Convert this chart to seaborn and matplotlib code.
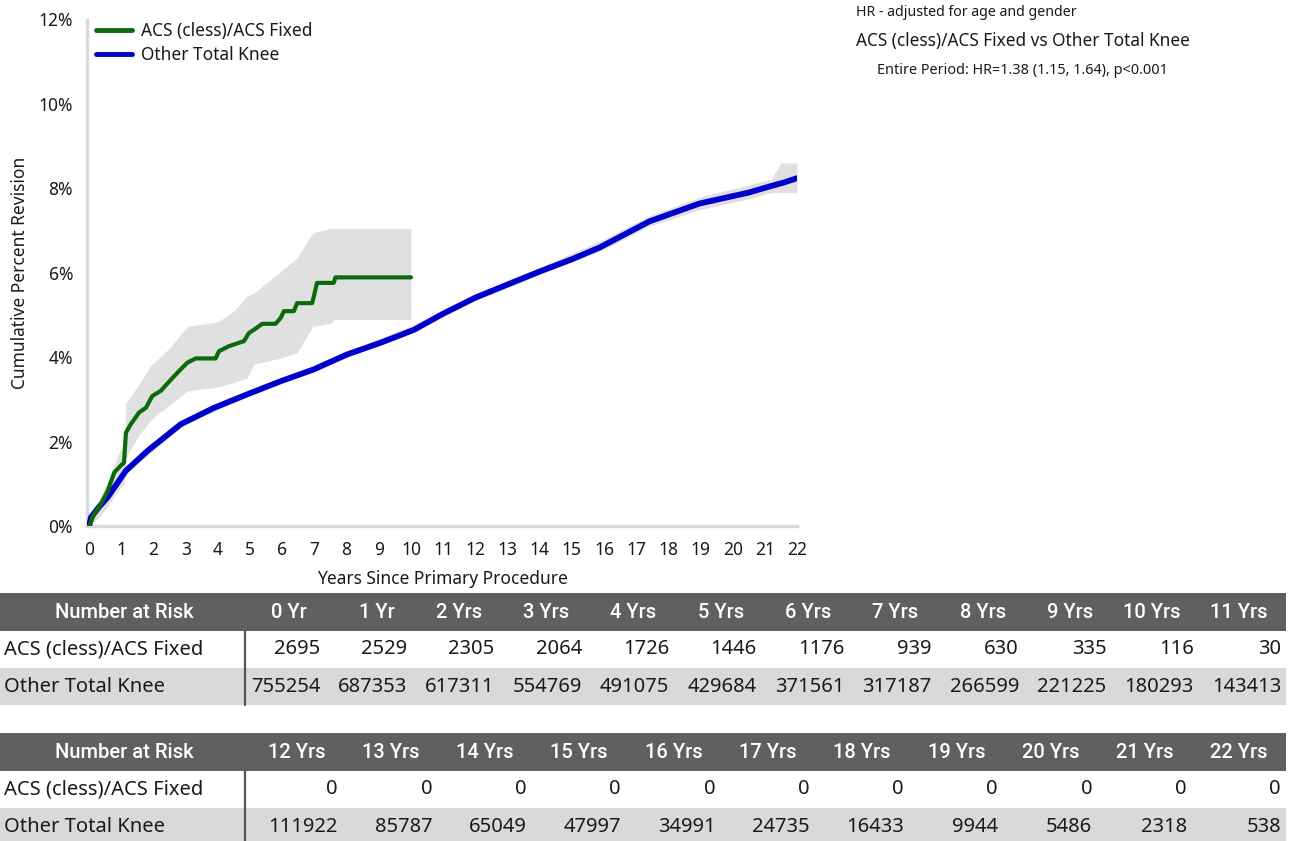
import numpy as np
import pandas as pd
import matplotlib
matplotlib.use("Agg")
import matplotlib.pyplot as plt
from matplotlib.patches import Rectangle
import seaborn as sns

# ---------------- data ----------------
green_name = "ACS (cless)/ACS Fixed"
blue_name = "Other Total Knee"

green_t = [0, 0.15, 0.36, 0.57, 0.78, 0.98, 1.08, 1.14, 1.29, 1.55, 1.76, 1.96, 2.22, 2.59,
           2.84, 3.05, 3.31, 3.93, 4.03, 4.34, 4.81, 4.96, 5.12, 5.38, 5.79, 5.95, 6.05,
           6.36, 6.46, 6.93, 7.08, 7.6, 7.65, 10.0]
green_v = [0, 0.28, 0.52, 0.83, 1.27, 1.43, 1.50, 2.21, 2.41, 2.69, 2.80, 3.08, 3.20, 3.51,
           3.71, 3.87, 3.97, 3.97, 4.14, 4.26, 4.38, 4.57, 4.65, 4.79, 4.79, 4.93, 5.09,
           5.09, 5.28, 5.28, 5.76, 5.76, 5.89, 5.89]

green_ci_t = [0, 0.3, 0.6, 0.9, 1.1, 1.14, 1.5, 1.9, 2.2, 2.5, 3.05, 3.5, 3.9, 4.03, 4.5,
              4.91, 5.12, 5.5, 5.95, 6.46, 6.95, 7.5, 7.6, 10.0]
green_hi = [0, 0.6, 1.1, 1.7, 1.95, 2.92, 3.3, 3.79, 4.0, 4.22, 4.73, 4.78, 4.82, 4.85, 5.1,
            5.45, 5.52, 5.75, 6.03, 6.35, 6.95, 7.05, 7.05, 7.05]
green_lo = [0, 0.2, 0.5, 0.85, 1.0, 1.62, 2.1, 2.5, 2.7, 2.86, 3.2, 3.25, 3.28, 3.3, 3.4,
            3.51, 3.83, 3.9, 3.98, 4.1, 4.73, 4.8, 4.89, 4.89]

blue_t = [0, 0.05, 0.3, 0.57, 1.14, 1.81, 2.84, 3.88, 4.91, 5.95, 6.98, 8.0, 9.05, 10.1,
          11, 12, 13, 14, 15, 15.87, 17.42, 18.97, 20.5, 21.22, 21.6, 22]
blue_v = [0, 0.2, 0.45, 0.68, 1.31, 1.78, 2.41, 2.80, 3.12, 3.43, 3.71, 4.06, 4.34, 4.65,
          5.03, 5.41, 5.72, 6.03, 6.32, 6.6, 7.22, 7.64, 7.90, 8.06, 8.14, 8.24]
blue_ci_t = [0, 1, 3, 5, 8, 10, 12, 14, 16, 17.4, 19, 20.5, 21.2, 21.5, 22]
blue_lo = [0, 1.16, 2.42, 3.09, 3.99, 4.58, 5.34, 5.95, 6.55, 7.10, 7.50, 7.75, 7.90, 7.90, 7.90]
blue_hi = [0, 1.25, 2.53, 3.21, 4.13, 4.74, 5.50, 6.12, 6.80, 7.35, 7.80, 8.08, 8.22, 8.60, 8.60]

years1 = ["0 Yr", "1 Yr", "2 Yrs", "3 Yrs", "4 Yrs", "5 Yrs", "6 Yrs", "7 Yrs", "8 Yrs",
          "9 Yrs", "10 Yrs", "11 Yrs"]
green_risk1 = [2695, 2529, 2305, 2064, 1726, 1446, 1176, 939, 630, 335, 116, 30]
blue_risk1 = [755254, 687353, 617311, 554769, 491075, 429684, 371561, 317187, 266599,
              221225, 180293, 143413]
years2 = ["12 Yrs", "13 Yrs", "14 Yrs", "15 Yrs", "16 Yrs", "17 Yrs", "18 Yrs", "19 Yrs",
          "20 Yrs", "21 Yrs", "22 Yrs"]
green_risk2 = [0, 0, 0, 0, 0, 0, 0, 0, 0, 0, 0]
blue_risk2 = [111922, 85787, 65049, 47997, 34991, 24735, 16433, 9944, 5486, 2318, 538]

x_ticks = list(range(0, 23))
y_ticks = [0, 2, 4, 6, 8, 10, 12]

# ---------------- style ----------------
sns.set_style("white")
plt.rcParams['font.family'] = ['Noto Sans', 'DejaVu Sans']

W, H = 1290, 841
fig = plt.figure(figsize=(W / 100, H / 100), dpi=100)

GREEN = "#0b6b0b"
BLUE = "#0000cc"
BAND = "#e0e0e0"
SPINE = "#d9d9d9"
TXT = "#1a1a1a"

ax = fig.add_axes([87 / W, 1 - 526 / H, (797 - 87) / W, (526 - 19.5) / H])

ax.fill_between(green_ci_t, green_lo, green_hi, color=BAND, linewidth=0, zorder=1)
ax.fill_between(blue_ci_t, blue_lo, blue_hi, color=BAND, linewidth=0, zorder=1)

df_g = pd.DataFrame({"t": green_t, "v": green_v})
df_b = pd.DataFrame({"t": blue_t, "v": blue_v})
sns.lineplot(data=df_b, x="t", y="v", ax=ax, color=BLUE, linewidth=4.2, estimator=None,
             sort=False, label=blue_name, zorder=3)
sns.lineplot(data=df_g, x="t", y="v", ax=ax, color=GREEN, linewidth=3.0, estimator=None,
             sort=False, label=green_name, zorder=4)

ax.set_xlim(-0.07, 22)
ax.set_ylim(0, 12)
ax.set_xticks(x_ticks)
ax.set_xticklabels([str(t) for t in x_ticks])
ax.set_yticks(y_ticks)
ax.set_yticklabels([f"{t}%" for t in y_ticks])
ax.tick_params(axis="both", labelsize=12.5, colors=TXT, length=4, width=1,
               direction="out")
ax.tick_params(axis="x", pad=7)
ax.tick_params(axis="y", pad=6)
ax.tick_params(axis="both", color=SPINE)
for s in ["top", "right"]:
    ax.spines[s].set_visible(False)
for s in ["left", "bottom"]:
    ax.spines[s].set_color(SPINE)
    ax.spines[s].set_linewidth(2.4)
ax.set_xlabel("Years Since Primary Procedure", fontsize=12.5, color=TXT, labelpad=8)
ax.set_ylabel("Cumulative Percent Revision", fontsize=12.5, color=TXT, labelpad=7)

handles, labels = ax.get_legend_handles_labels()
order = [labels.index(green_name), labels.index(blue_name)]
leg = ax.legend([handles[i] for i in order], [labels[i] for i in order],
                loc="upper left", bbox_to_anchor=(96 / W, 1 - 22 / H),
                bbox_transform=fig.transFigure, frameon=False, fontsize=12.5,
                handlelength=2.1, handletextpad=0.5, labelspacing=0.35,
                borderaxespad=0, borderpad=0)
for lh in leg.get_lines():
    lh.set_linewidth(3.5)
for t in leg.get_texts():
    t.set_color(TXT)

# annotations
fig.text(856 / W, 1 - 12 / H, "HR - adjusted for age and gender", fontsize=10.2,
         color=TXT, ha="left", va="center")
fig.text(856 / W, 1 - 41 / H, "ACS (cless)/ACS Fixed vs Other Total Knee", fontsize=12.4,
         color=TXT, ha="left", va="center")
fig.text(877 / W, 1 - 71 / H, "Entire Period: HR=1.38 (1.15, 1.64), p<0.001", fontsize=10.4,
         color=TXT, ha="left", va="center")

# ---------------- tables ----------------
tx = fig.add_axes([0, 0, 1, 1])
tx.set_xlim(0, W)
tx.set_ylim(H, 0)
tx.axis("off")

HDR = "#606060"
ROWG = "#d9d9d9"
FS = 14.5


def draw_table(top, years, g_vals, b_vals, x0, step):
    hh, rh = 38, 37
    tx.add_patch(Rectangle((0, top), 1286, hh, color=HDR, lw=0))
    tx.add_patch(Rectangle((0, top + hh + rh), 1286, rh, color=ROWG, lw=0))
    tx.plot([245, 245], [top + hh, top + hh + 2 * rh], color="#555555", lw=1.6)
    tx.text(124, top + hh / 2, "Number at Risk", color="white", fontsize=FS,
            fontweight="medium", family=["Roboto", "DejaVu Sans"],
            ha="center", va="center")
    tx.text(4, top + hh + rh / 2, green_name, color=TXT, fontsize=FS, ha="left", va="center")
    tx.text(4, top + hh + rh * 1.5, blue_name, color=TXT, fontsize=FS, ha="left", va="center")
    for i, (y, g, b) in enumerate(zip(years, g_vals, b_vals)):
        xr = x0 + step * i
        tx.text(xr - 13, top + hh / 2, y, color="white", fontsize=FS,
                fontweight="medium", family=["Roboto", "DejaVu Sans"],
                ha="right", va="center")
        tx.text(xr, top + hh + rh / 2, str(g), color=TXT, fontsize=FS, ha="right", va="center")
        tx.text(xr, top + hh + rh * 1.5, str(b), color=TXT, fontsize=FS, ha="right", va="center")


draw_table(593, years1, green_risk1, blue_risk1, 320, (1281 - 320) / 11)
draw_table(733, years2, green_risk2, blue_risk2, 338, (1281 - 338) / 10)

fig.savefig("out.png", dpi=100)
